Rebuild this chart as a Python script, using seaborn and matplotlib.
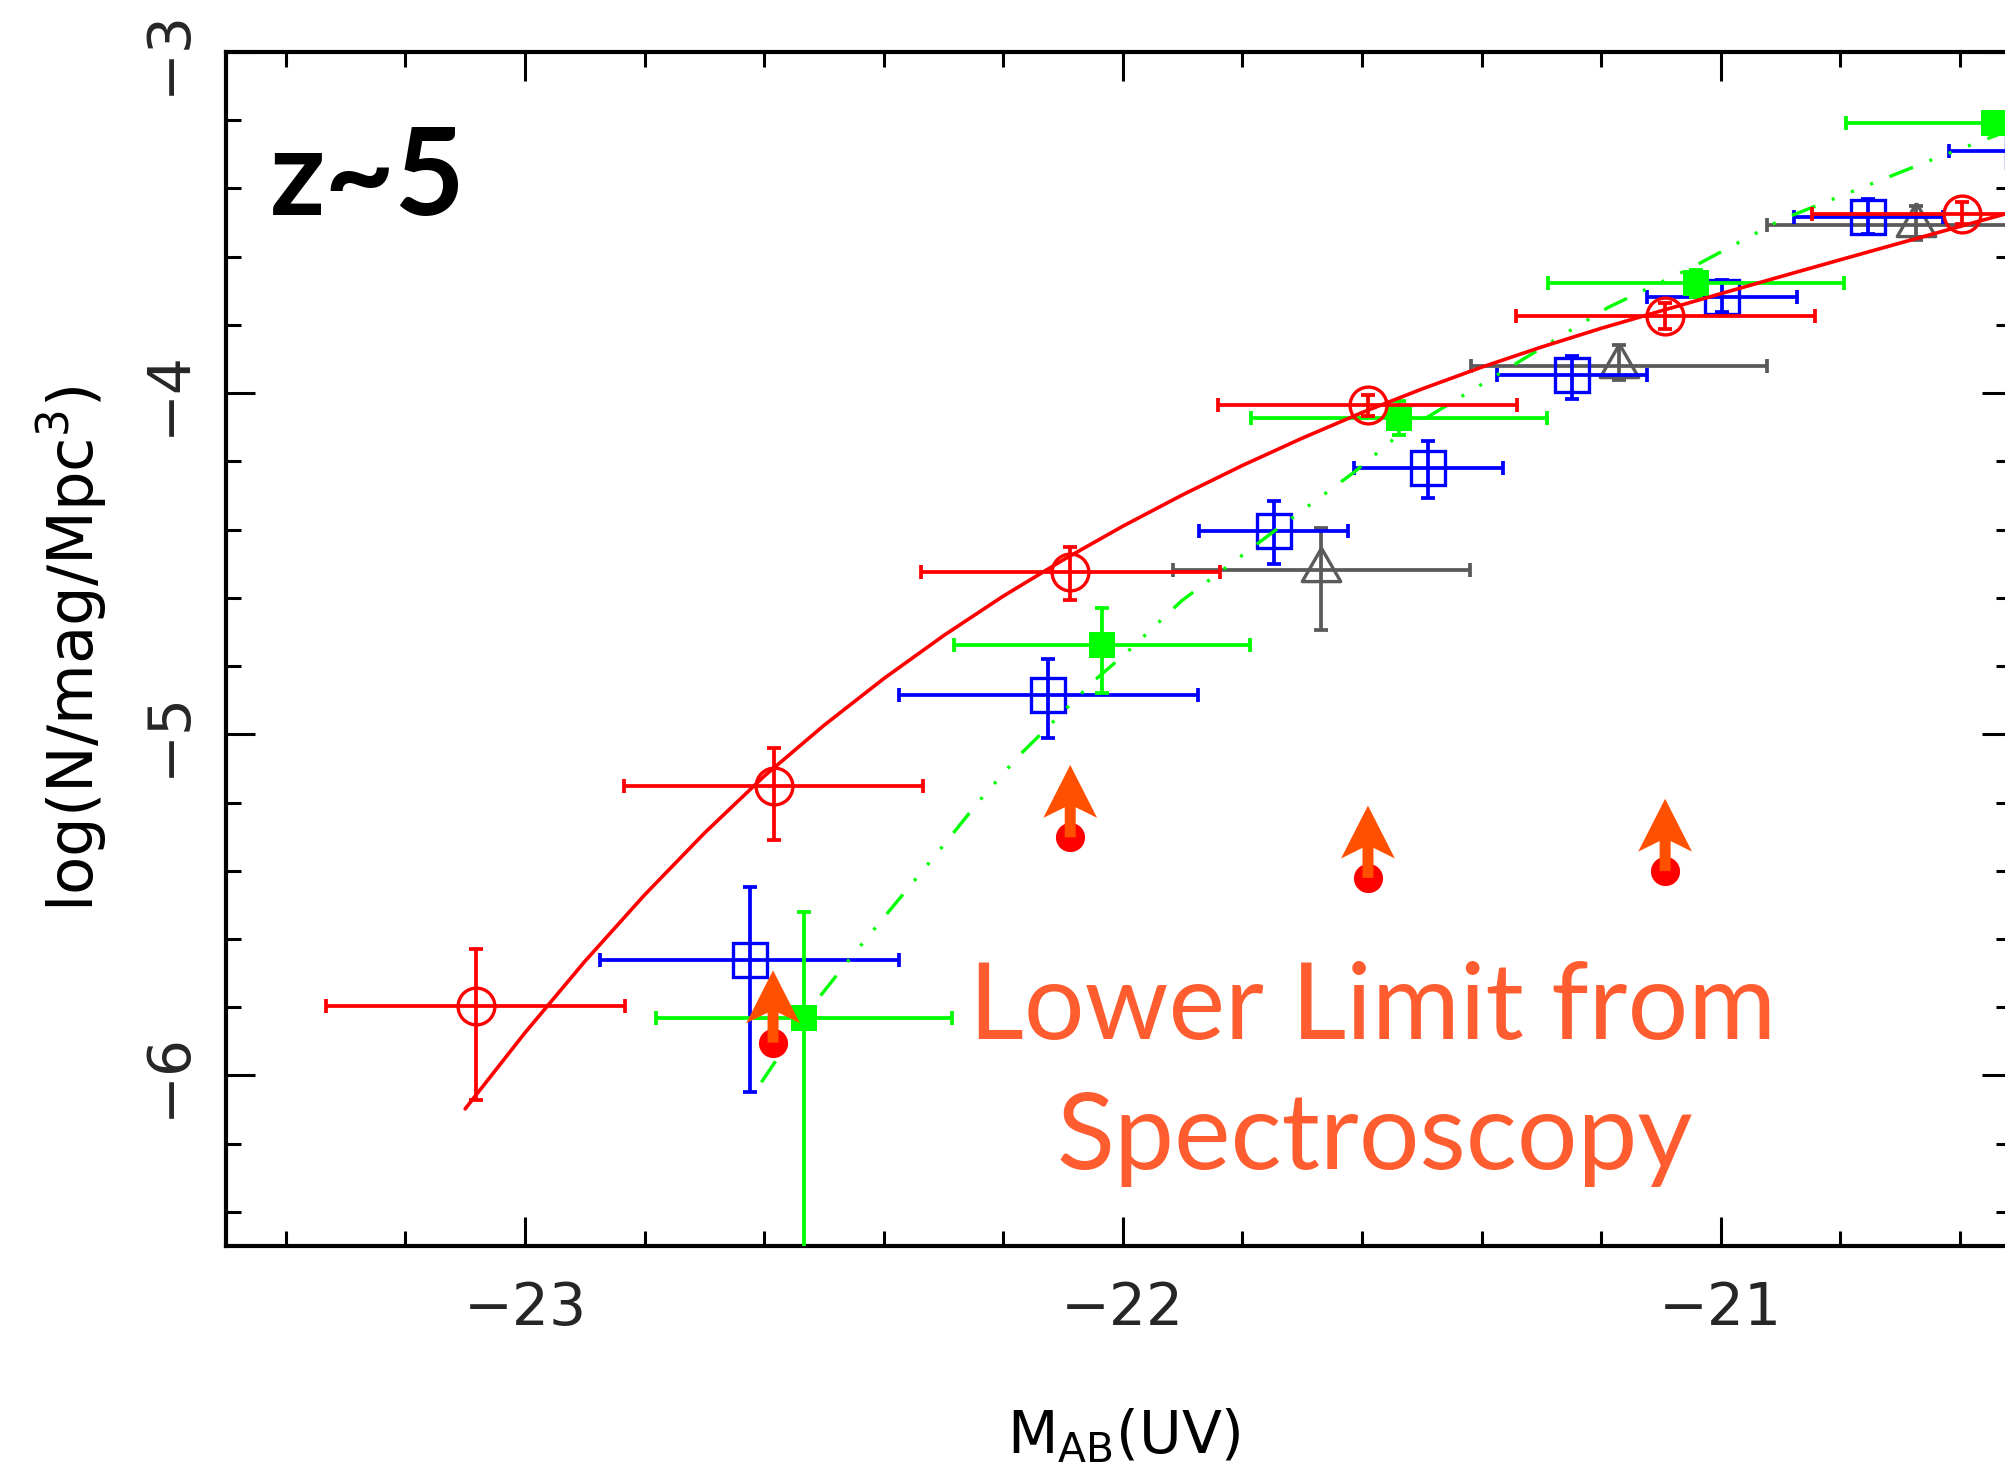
import matplotlib
matplotlib.use('Agg')
import matplotlib.pyplot as plt
from matplotlib.ticker import MultipleLocator
import seaborn as sns

# ---------------- data ----------------
red_x = [-23.082, -22.584, -22.088, -21.590, -21.093, -20.597]
red_y = [-5.797, -5.153, -4.525, -4.036, -3.773, -3.475]
red_xerr = [0.25, 0.25, 0.25, 0.25, 0.25, 0.25]
red_ylo = [0.274, 0.157, 0.081, 0.03, 0.04, 0.03]
red_yhi = [0.168, 0.112, 0.073, 0.03, 0.038, 0.034]

blue_x = [-22.624, -22.125, -21.748, -21.489, -21.249, -20.998, -20.753, -20.494]
blue_y = [-5.661, -4.886, -4.404, -4.219, -3.948, -3.717, -3.483, -3.290]
blue_xerr = [0.25, 0.25, 0.125, 0.125, 0.125, 0.125, 0.125, 0.125]
blue_ylo = [0.389, 0.126, 0.097, 0.088, 0.069, 0.046, 0.051, 0.04]
blue_yhi = [0.213, 0.107, 0.088, 0.078, 0.058, 0.049, 0.052, 0.04]

green_x = [-22.533, -22.035, -21.538, -21.041, -20.543]
green_y = [-5.831, -4.739, -4.072, -3.678, -3.208]
green_xerr = [0.248, 0.248, 0.248, 0.248, 0.248]
green_ylo = [1.0, 0.141, 0.051, 0.039, 0.03]
green_yhi = [0.31, 0.11, 0.05, 0.038, 0.03]

gray_x = [-21.668, -21.170, -20.674]
gray_y = [-4.519, -3.921, -3.508]
gray_xerr = [0.248, 0.248, 0.248]
gray_ylo = [0.175, 0.041, 0.044]
gray_yhi = [0.123, 0.062, 0.058]

limit_x = [-22.585, -22.088, -21.590, -21.093]
limit_y = [-5.904, -5.302, -5.421, -5.401]

red_fit_x = [-23.10, -23.00, -22.90, -22.80, -22.70, -22.60, -22.50, -22.40,
             -22.30, -22.20, -22.10, -22.00, -21.90, -21.80, -21.70, -21.60,
             -21.50, -21.40, -21.30, -21.20, -21.10, -21.00, -20.90, -20.80,
             -20.70, -20.60, -20.51]
red_fit_y = [-6.098, -5.875, -5.666, -5.471, -5.290, -5.123, -4.974, -4.837,
             -4.711, -4.595, -4.489, -4.390, -4.298, -4.212, -4.132, -4.057,
             -3.988, -3.924, -3.865, -3.810, -3.759, -3.7085, -3.6585, -3.609,
             -3.560, -3.5115, -3.468]

green_fit_x = [-22.6045, -22.5615, -22.506, -22.458, -22.395, -22.309, -22.242,
               -22.175, -22.126, -22.050, -21.994, -21.9025, -21.748, -21.613,
               -21.5355, -21.361, -21.1875, -21.052, -20.898, -20.647, -20.51]
green_fit_y = [-6.020, -5.908, -5.767, -5.661, -5.527, -5.345, -5.199,
               -5.065, -4.980, -4.846, -4.761, -4.610, -4.406, -4.2315,
               -4.118, -3.933, -3.748, -3.635, -3.491, -3.316, -3.225]

x_label = r'M$_{\rm AB}$(UV)'
y_label = r'log(N/mag/Mpc$^{3}$)'
panel_label = 'z~5'
note_lines = ['Lower Limit from', 'Spectroscopy']

# ---------------- style ----------------
sns.set_theme(style='ticks')
plt.rcParams['font.family'] = ['DejaVu Sans']
plt.rcParams['mathtext.fontset'] = 'dejavusans'

RED = '#FF0000'
BLUE = '#0000FF'
GREEN = '#00FF00'
GRAY = '#5A5A5A'
ARROW = '#FF5000'
NOTE = '#FF5C30'

W, H = 2006, 1480
fig = plt.figure(figsize=(W / 100, H / 100), dpi=100)
fig.patch.set_facecolor('white')
ax = fig.add_axes([226 / W, 1 - 1246 / H, (2011 - 226) / W, (1246 - 52) / H])
ax.set_facecolor('white')

ELW = 2.7
CAP = 4.7
MEW = 2.4

def draw_errors(x, y, xerr, ylo, yhi, color, z):
    ax.errorbar(x, y, xerr=xerr, yerr=[ylo, yhi], fmt='none', ecolor=color,
                elinewidth=ELW, capsize=CAP, capthick=ELW, zorder=z)

tri = [(0, 1.155), (-1, -0.577), (1, -0.577), (0, 1.155)]

# gray triangles
draw_errors(gray_x, gray_y, gray_xerr, gray_ylo, gray_yhi, GRAY, 2)
ax.plot(gray_x, gray_y, linestyle='none', marker=tri, ms=32, mfc='none',
        mec=GRAY, mew=MEW, zorder=2.1)

# blue open squares
draw_errors(blue_x, blue_y, blue_xerr, blue_ylo, blue_yhi, BLUE, 3)
ax.plot(blue_x, blue_y, linestyle='none', marker='s', ms=24, mfc='none',
        mec=BLUE, mew=MEW, zorder=3.1)

# green fit + filled squares
sns.lineplot(x=green_fit_x, y=green_fit_y, ax=ax, color=GREEN, sort=False,
             estimator=None, linewidth=2.4, zorder=4)
ax.lines[-1].set_linestyle((0, (7.6, 5.3, 0.9, 5.3, 0.9, 5.3, 0.9, 5.3)))
draw_errors(green_x, green_y, green_xerr, green_ylo, green_yhi, GREEN, 4)
ax.plot(green_x, green_y, linestyle='none', marker='s', ms=19, mfc=GREEN,
        mec=GREEN, mew=0, zorder=4.1)

# red fit + open circles
sns.lineplot(x=red_fit_x, y=red_fit_y, ax=ax, color=RED, sort=False,
             estimator=None, linewidth=2.6, zorder=5)
draw_errors(red_x, red_y, red_xerr, red_ylo, red_yhi, RED, 5)
ax.plot(red_x, red_y, linestyle='none', marker='o', ms=26.5, mfc='none',
        mec=RED, mew=MEW, zorder=5.1)

# spectroscopic lower limits
ax.plot(limit_x, limit_y, linestyle='none', marker='o', ms=21, mfc=RED,
        mec='none', zorder=6)
for lx, ly in zip(limit_x, limit_y):
    ax.arrow(lx, ly, 0, 0.212, width=0.0184, head_width=0.09,
             head_length=0.155, length_includes_head=True, overhang=0.2,
             color=ARROW, lw=0, zorder=7)

# ---------------- axes ----------------
ax.set_xlim(-23.5, -20.5145)
ax.set_ylim(-6.5, -3.0)
ax.xaxis.set_major_locator(MultipleLocator(1))
ax.xaxis.set_minor_locator(MultipleLocator(0.2))
ax.yaxis.set_major_locator(MultipleLocator(1))
ax.yaxis.set_minor_locator(MultipleLocator(0.2))
ax.tick_params(which='both', direction='in', top=True, right=True,
               color='black', width=2.2)
ax.tick_params(which='major', length=21)
ax.tick_params(which='minor', length=10.5)
ax.tick_params(axis='x', which='major', labelsize=42, pad=24.5)
ax.tick_params(axis='y', which='major', labelsize=42, pad=21, labelrotation=90)
for lab in ax.get_yticklabels():
    lab.set_va('center')
for s in ax.spines.values():
    s.set_visible(True)
    s.set_linewidth(3.0)
    s.set_color('black')
ax.set_xlabel('')
ax.set_ylabel('')

fig.text(1124 / W, 1 - 1453 / H, x_label, ha='center', va='baseline',
         fontsize=42, color='black')
fig.text(72 / W, 1 - 649 / H, y_label, ha='center', va='center',
         rotation=90, fontsize=45, color='black')

fig.text(270 / W, 1 - 215 / H, panel_label, ha='left', va='baseline',
         fontsize=87, family=['Lato', 'DejaVu Sans'], weight='bold',
         color='black')
fig.text(1373 / W, 1 - 1039 / H, note_lines[0], ha='center', va='baseline',
         fontsize=77, family=['Lato', 'DejaVu Sans'], color=NOTE)
fig.text(1375 / W, 1 - 1169 / H, note_lines[1], ha='center', va='baseline',
         fontsize=77, family=['Lato', 'DejaVu Sans'], color=NOTE)

fig.savefig('out.png', dpi=100)
